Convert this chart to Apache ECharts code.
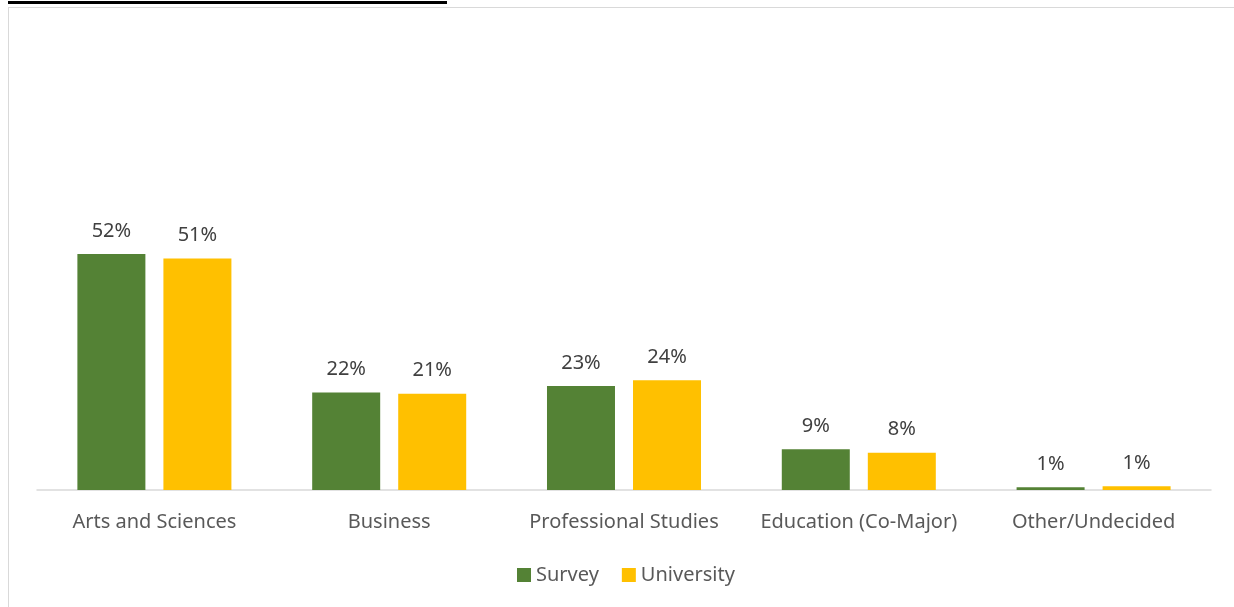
<!DOCTYPE html>
<html>
<head>
<meta charset="utf-8">
<script src="https://cdn.jsdelivr.net/npm/echarts@6/dist/echarts.min.js"></script>
<style>
  html, body { margin: 0; padding: 0; background: #ffffff; }
  #wrap { position: relative; width: 1234px; height: 607px; overflow: hidden; }
  #frame { position: absolute; left: 8px; top: 7px; width: 1240px; height: 620px; border: 1px solid #d9d9d9; box-sizing: border-box; }
  #titleLine { position: absolute; left: 8px; top: 1px; width: 439px; height: 3px; background: #000; }
  #chart { position: absolute; left: 0; top: 0; width: 1234px; height: 607px; }
</style>
</head>
<body>
<div id="wrap">
  <div id="frame"></div>
  <div id="titleLine"></div>
  <div id="chart"></div>
</div>
<script>
const categories = ['Arts and Sciences', 'Business', 'Professional Studies', 'Education (Co-Major)', 'Other/Undecided'];
const surveyValues = [52, 21.5, 22.9, 9.0, 0.6];
const universityValues = [51, 21.2, 24.2, 8.2, 0.8];
const seriesNames = ['Survey', 'University'];

const FONT = '"Noto Sans", "Open Sans", sans-serif';
const chart = echarts.init(document.getElementById('chart'), null, { renderer: 'canvas' });
const labelCfg = {
  show: true,
  position: 'top',
  distance: 13,
  color: '#404040',
  fontSize: 20,
  fontFamily: FONT,
  formatter: p => Math.round(p.value) + '%'
};
chart.setOption({
  animation: false,
  backgroundColor: 'transparent',
  grid: { left: 37, right: 23, top: 36, bottom: 117, containLabel: false },
  legend: {
    data: seriesNames,
    left: 517,
    top: 565,
    padding: 0,
    itemWidth: 14,
    itemHeight: 14,
    itemGap: 23,
    icon: 'rect',
    textStyle: { color: '#595959', fontSize: 20, fontFamily: FONT }
  },
  xAxis: {
    type: 'category',
    data: categories,
    axisLine: { lineStyle: { color: '#d9d9d9', width: 1.5 } },
    axisTick: { show: false },
    axisLabel: { color: '#595959', fontSize: 20, fontFamily: FONT, margin: 22, interval: 0, hideOverlap: false }
  },
  yAxis: {
    type: 'value',
    min: 0,
    max: 100,
    show: false,
    splitLine: { show: false }
  },
  series: [
    {
      name: seriesNames[0],
      type: 'bar',
      data: surveyValues,
      barWidth: 68,
      barGap: '26.5%',
      itemStyle: { color: '#548235' },
      label: labelCfg
    },
    {
      name: seriesNames[1],
      type: 'bar',
      data: universityValues,
      barWidth: 68,
      itemStyle: { color: '#ffc000' },
      label: labelCfg
    }
  ]
});
</script>
</body>
</html>
